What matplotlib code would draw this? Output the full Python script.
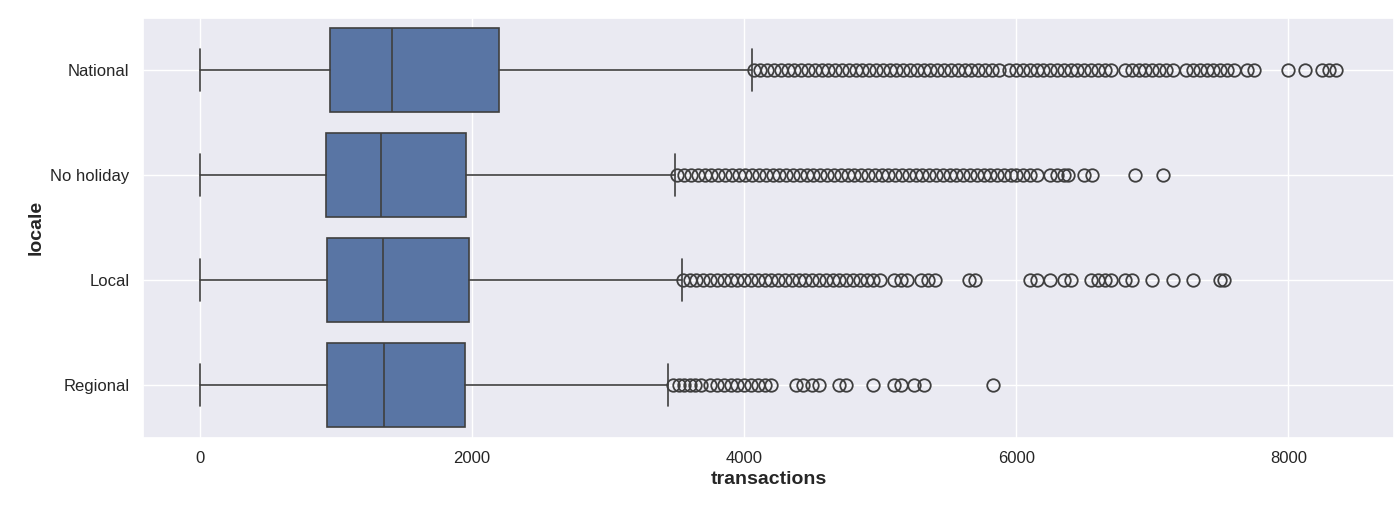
import matplotlib
matplotlib.use("Agg")
import matplotlib.pyplot as plt
import seaborn as sns

categories = ["National", "No holiday", "Local", "Regional"]
q1 = [957, 928, 935, 935]
med = [1410, 1328, 1343, 1350]
q3 = [2197, 1959, 1981, 1952]
whislo = [0, 0, 0, 0]
whishi = [4059, 3495, 3540, 3440]

fl_national = [4070, 4120, 4170, 4220, 4270, 4320, 4370, 4420, 4470, 4520, 4570, 4620, 4670, 4720,
               4770, 4820, 4870, 4920, 4970, 5020, 5070, 5120, 5170, 5220, 5270, 5320, 5370, 5420,
               5470, 5520, 5570, 5620, 5670, 5720, 5770, 5820, 5870, 5950, 6000, 6050, 6100, 6150,
               6200, 6250, 6300, 6350, 6400, 6450, 6500, 6550, 6600, 6650, 6700, 6800, 6850, 6900,
               6950, 7000, 7050, 7100, 7150, 7250, 7300, 7350, 7400, 7450, 7500, 7550, 7600, 7700,
               7750, 8000, 8120, 8250, 8300, 8350]
fl_noholiday = [3510, 3560, 3610, 3660, 3710, 3760, 3810, 3860, 3910, 3960, 4010, 4060, 4110, 4160,
                4210, 4260, 4310, 4360, 4410, 4460, 4510, 4560, 4610, 4660, 4710, 4760, 4810, 4860,
                4910, 4960, 5010, 5060, 5110, 5160, 5210, 5260, 5310, 5360, 5410, 5460, 5510, 5560,
                5610, 5660, 5710, 5760, 5810, 5860, 5910, 5960, 6000, 6050, 6100, 6150, 6250, 6300,
                6350, 6380, 6500, 6560, 6870, 7080]
fl_local = [3550, 3600, 3650, 3700, 3750, 3800, 3850, 3900, 3950, 4000, 4050, 4100, 4150, 4200,
            4250, 4300, 4350, 4400, 4450, 4500, 4550, 4600, 4650, 4700, 4750, 4800, 4850, 4900,
            4950, 5000, 5100, 5150, 5200, 5300, 5350, 5400, 5650, 5700, 6100, 6150, 6250, 6350,
            6400, 6550, 6600, 6650, 6700, 6800, 6850, 7000, 7150, 7300, 7500, 7530]
fl_regional = [3480, 3520, 3560, 3600, 3640, 3680, 3750, 3800, 3850, 3900, 3950, 4000, 4050, 4100,
               4150, 4200, 4380, 4430, 4500, 4550, 4700, 4750, 4950, 5100, 5150, 5250, 5320, 5830]
fliers = [fl_national, fl_noholiday, fl_local, fl_regional]

sns.set_theme(style="darkgrid")
plt.rcParams['font.family'] = ['Liberation Sans', 'DejaVu Sans']

fig = plt.figure(figsize=(14, 5.09), dpi=100)
ax = fig.add_axes([0.102, 0.14, 0.894, 0.825])

stats = []
for i in range(4):
    stats.append(dict(label=categories[i], q1=q1[i], med=med[i], q3=q3[i],
                      whislo=whislo[i], whishi=whishi[i], fliers=fliers[i]))
lc = "#3f3f3f"
ax.bxp(stats, positions=range(4), widths=0.8, vert=False, patch_artist=True,
       boxprops=dict(facecolor="#5975a4", edgecolor=lc, linewidth=1.2),
       medianprops=dict(color=lc, linewidth=1.2),
       whiskerprops=dict(color=lc, linewidth=1.2),
       capprops=dict(color=lc, linewidth=1.2),
       flierprops=dict(marker="o", markersize=9, markerfacecolor="none",
                       markeredgecolor=lc, markeredgewidth=1.3))
ax.set_ylim(3.5, -0.5)
ax.set_xlim(-420, 8780)
ax.set_yticks(range(4))
ax.set_yticklabels(categories, fontsize=12)
ax.set_xticks([0, 2000, 4000, 6000, 8000])
ax.tick_params(axis='x', labelsize=12)
ax.set_xlabel("transactions", fontsize=14, fontweight="bold")
ax.set_ylabel("locale", fontsize=14, fontweight="bold")
fig.savefig("out.png")
